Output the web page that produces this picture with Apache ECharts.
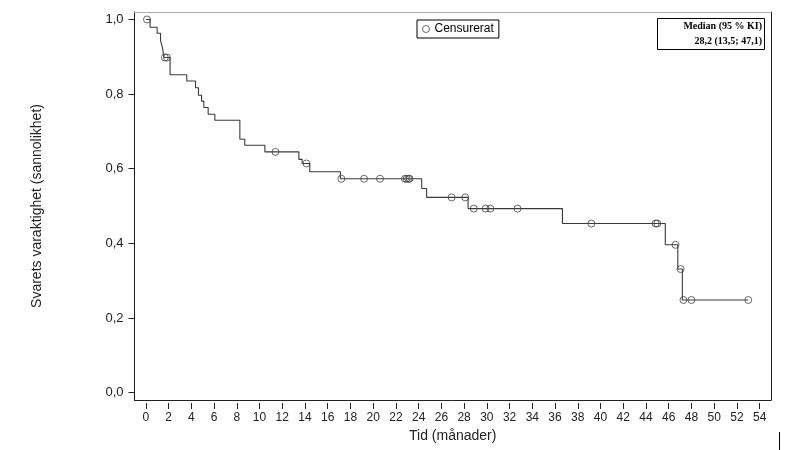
<!DOCTYPE html>
<html>
<head>
<meta charset="utf-8">
<script src="https://cdn.jsdelivr.net/npm/echarts@6/dist/echarts.min.js"></script>
<style>html,body{margin:0;padding:0;background:#fff}#c{width:785px;height:450px}</style>
</head>
<body>
<div id="c"></div>
<script>
// Kaplan-Meier step curve (time in months, survival probability after step)
const kmTimes = [0, 0.37, 0.99, 1.29, 1.45, 1.6, 2.13, 3.6, 4.37, 4.63, 4.9, 5.1, 5.48, 6.07, 8.27, 8.7, 10.47, 13.46, 13.75, 14.42, 17.12, 24.27, 24.7, 28.35, 36.65, 45.7, 46.8, 47.2, 53.0];
const kmSurv  = [1.0, 0.979, 0.963, 0.944, 0.925, 0.898, 0.852, 0.835, 0.817, 0.797, 0.781, 0.764, 0.746, 0.73, 0.679, 0.663, 0.645, 0.625, 0.614, 0.592, 0.573, 0.547, 0.523, 0.493, 0.453, 0.396, 0.331, 0.248, 0.248];
// Censored observations
const censorTimes = [0.1, 1.67, 1.85, 11.4, 14.13, 17.2, 19.2, 20.6, 22.8, 22.95, 23.1, 23.2, 26.9, 28.1, 28.85, 29.9, 30.3, 32.7, 39.2, 44.85, 45.0, 46.6, 47.05, 47.3, 48.0, 53.0];
const censorSurv  = [1.0, 0.898, 0.898, 0.645, 0.614, 0.573, 0.573, 0.573, 0.573, 0.573, 0.573, 0.573, 0.523, 0.523, 0.493, 0.493, 0.493, 0.493, 0.453, 0.453, 0.453, 0.396, 0.331, 0.248, 0.248, 0.248];
// Axis ticks
const xTicks = [0,2,4,6,8,10,12,14,16,18,20,22,24,26,28,30,32,34,36,38,40,42,44,46,48,50,52,54];
const yTicks = [0, 0.2, 0.4, 0.6, 0.8, 1.0];
const legendName = 'Censurerat';
const medianLines = ['Median (95 % KI)', '28,2 (13,5; 47,1)'];

const chart = echarts.init(document.getElementById('c'), null, {renderer: 'canvas'});
const sans = 'Arial, "Liberation Sans", sans-serif';
const narrow = '"Liberation Sans Narrow", "Arial Narrow", Arial, sans-serif';

chart.setOption({
  animation: false,
  backgroundColor: '#fff',
  grid: {left: 134.5, right: 14, top: 12, bottom: 50, containLabel: false},
  legend: {
    data: [{name: legendName, icon: 'circle', itemStyle: {color: '#fff', borderColor: '#444', borderWidth: 1}}],
    left: 417, top: 20,
    orient: 'horizontal',
    itemWidth: 7, itemHeight: 7, itemGap: 4,
    padding: [3, 5, 3, 5],
    borderColor: '#000', borderWidth: 1,
    textStyle: {fontFamily: sans, fontSize: 12, color: '#000'},
    selectedMode: false
  },
  xAxis: [
    {type: 'value', min: -1, max: 55, position: 'bottom',
     axisLine: {show: true, onZero: false, lineStyle: {color: '#222', width: 1}},
     axisTick: {show: false}, axisLabel: {show: false}, splitLine: {show: false}},
    {type: 'value', min: -1, max: 55, position: 'bottom', offset: 3,
     axisLine: {show: false, onZero: false},
     axisTick: {show: true, length: 6, customValues: xTicks, lineStyle: {color: '#222'}},
     axisLabel: {customValues: xTicks, margin: 9, fontFamily: narrow, fontSize: 12, color: '#222'},
     splitLine: {show: false},
     name: 'Tid (månader)', nameLocation: 'middle', nameGap: 24,
     nameTextStyle: {fontFamily: narrow, fontSize: 14, color: '#222'}},
    {type: 'value', min: -1, max: 55, position: 'top',
     axisLine: {show: true, onZero: false, lineStyle: {color: '#aaa', width: 1}},
     axisTick: {show: false}, axisLabel: {show: false}, splitLine: {show: false}}
  ],
  yAxis: [
    {type: 'value', min: -0.02, max: 1.02, position: 'left',
     axisLine: {show: true, onZero: false, lineStyle: {color: '#222', width: 1}},
     axisTick: {show: true, length: 6, customValues: yTicks, lineStyle: {color: '#222'}},
     axisLabel: {customValues: yTicks, margin: 11, fontFamily: sans, fontSize: 13, color: '#222',
                 formatter: v => v.toFixed(1).replace('.', ',')},
     splitLine: {show: false},
     name: 'Svarets varaktighet (sannolikhet)', nameLocation: 'middle', nameGap: 90,
     nameTextStyle: {fontFamily: sans, fontSize: 14, color: '#222'}},
    {type: 'value', min: -0.02, max: 1.02, position: 'right',
     axisLine: {show: true, onZero: false, lineStyle: {color: '#222', width: 1}},
     axisTick: {show: false}, axisLabel: {show: false}, splitLine: {show: false}}
  ],
  series: [
    {type: 'line', name: 'KM', step: 'end', xAxisIndex: 0, yAxisIndex: 0,
     data: kmTimes.map((t, i) => [t, kmSurv[i]]),
     showSymbol: false, symbol: 'none',
     lineStyle: {color: '#3a3a3a', width: 1.1}, z: 2},
    {type: 'scatter', name: legendName, xAxisIndex: 0, yAxisIndex: 0,
     data: censorTimes.map((t, i) => [t, censorSurv[i]]),
     symbol: 'circle', symbolSize: 7,
     itemStyle: {color: 'rgba(255,255,255,0)', borderColor: '#444', borderWidth: 1}, z: 3}
  ],
  graphic: [
    {type: 'rect', shape: {x: 657.5, y: 18.5, width: 107, height: 31},
     style: {fill: '#fff', stroke: '#000', lineWidth: 1}},
    {type: 'text', x: 762, y: 21, style: {text: medianLines[0], align: 'right', verticalAlign: 'top',
     font: 'bold 10px "Liberation Serif", "Times New Roman", serif', fill: '#000'}},
    {type: 'text', x: 762, y: 36, style: {text: medianLines[1], align: 'right', verticalAlign: 'top',
     font: 'bold 10px "Liberation Serif", "Times New Roman", serif', fill: '#000'}},
    {type: 'line', shape: {x1: 779.5, y1: 432, x2: 779.5, y2: 450}, style: {stroke: '#000', lineWidth: 1}}
  ]
});
</script>
</body>
</html>
